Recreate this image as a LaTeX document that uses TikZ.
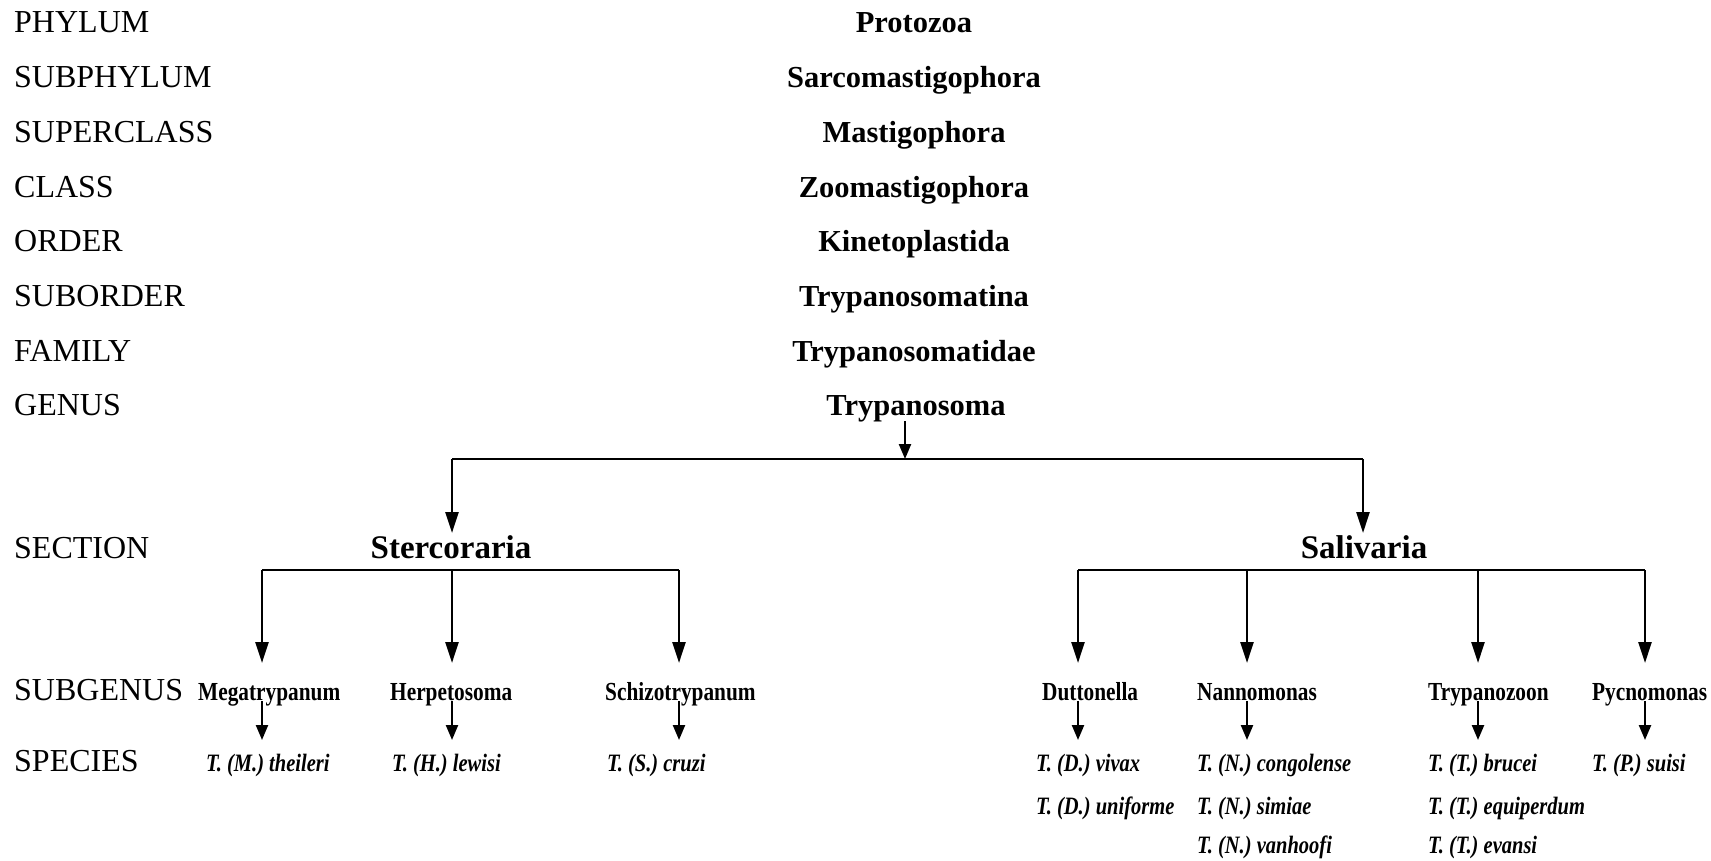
\documentclass[tikz,border=0pt]{standalone}
\usepackage{fontspec}
\setmainfont{Liberation Serif}
\newfontfamily\subfont{Liberation Serif}[FakeStretch=0.82]
\usetikzlibrary{arrows.meta}
\begin{document}
\begin{tikzpicture}[x=1pt,y=-1pt,
  lab/.style={anchor=base west,font=\fontsize{32}{32}\selectfont,inner sep=0pt},
  taxon/.style={anchor=base,font=\bfseries\fontsize{30.5}{31}\selectfont,inner sep=0pt},
  sect/.style={anchor=base,font=\bfseries\fontsize{33}{33}\selectfont,inner sep=0pt},
  subg/.style={anchor=base west,font=\subfont\bfseries\fontsize{26}{26}\selectfont,inner sep=0pt},
  spec/.style={anchor=base west,font=\subfont\bfseries\itshape\fontsize{25}{25}\selectfont,inner sep=0pt},
  conn/.style={line width=2.5pt},
  bigarr/.style={line width=2.5pt,-{Triangle[width=13pt,length=21pt]}},
  smallarr/.style={line width=2.3pt,-{Triangle[width=12pt,length=15pt]}}
]
\useasboundingbox[fill=white] (0,0) rectangle (1711,860);

% rank labels
\node[lab] (lPhy) at (14,32) {PHYLUM};
\node[lab] (lSub) at (14,87) {SUBPHYLUM};
\node[lab] (lSup) at (14,142) {SUPERCLASS};
\node[lab] (lCla) at (14,197) {CLASS};
\node[lab] (lOrd) at (14,251) {ORDER};
\node[lab] (lSor) at (14,306) {SUBORDER};
\node[lab] (lFam) at (14,361) {FAMILY};
\node[lab] (lGen) at (14,415) {GENUS};
\node[lab] (lSec) at (14,558) {SECTION};
\node[lab] (lSg)  at (14,700) {SUBGENUS};
\node[lab] (lSp)  at (14,771) {SPECIES};

% taxa
\node[taxon] (protozoa) at (914,32) {Protozoa};
\node[taxon] (sarco) at (914,87) {Sarcomastigophora};
\node[taxon] (masti) at (914,142) {Mastigophora};
\node[taxon] (zoo) at (914,197) {Zoomastigophora};
\node[taxon] (kin) at (914,251) {Kinetoplastida};
\node[taxon] (tsina) at (914,306) {Trypanosomatina};
\node[taxon] (tsidae) at (914,361) {Trypanosomatidae};
\node[taxon] (tryp) at (916,415) {Trypanosoma};

\coordinate (gtop) at (905,421);
\coordinate (gbar) at (905,459);
\draw[smallarr] (gtop) -- (gbar);

\node[sect] (sterc) at (451,558) {Stercoraria};
\node[sect] (saliv) at (1364,558) {Salivaria};

\coordinate (stTop) at (452,459);
\coordinate (saTop) at (1363,459);
\draw[conn] (stTop) -- (saTop);
\draw[bigarr] (stTop) -- ++(0,74);
\draw[bigarr] (saTop) -- ++(0,74);

% Stercoraria subgenera
\coordinate (stL) at (262,570);
\coordinate (stM) at (452,570);
\coordinate (stR) at (679,570);
\draw[conn] (stL) -- (stR);
\draw[bigarr] (stL) -- ++(0,93);
\draw[bigarr] (stM) -- ++(0,93);
\draw[bigarr] (stR) -- ++(0,93);

% Salivaria subgenera
\coordinate (saA) at (1078,570);
\coordinate (saB) at (1247,570);
\coordinate (saC) at (1478,570);
\coordinate (saD) at (1645,570);
\draw[conn] (saA) -- (saD);
\draw[bigarr] (saA) -- ++(0,93);
\draw[bigarr] (saB) -- ++(0,93);
\draw[bigarr] (saC) -- ++(0,93);
\draw[bigarr] (saD) -- ++(0,93);

\node[subg] (mega) at (198,700) {Megatrypanum};
\node[subg] (herp) at (390,700) {Herpetosoma};
\node[subg] (schi) at (605,700) {Schizotrypanum};
\node[subg] (dutt) at (1042,700) {Duttonella};
\node[subg] (nann) at (1197,700) {Nannomonas};
\node[subg] (tryz) at (1428,700) {Trypanozoon};
\node[subg] (pycn) at (1592,700) {Pycnomonas};

% small arrows subgenus -> species
\draw[smallarr] (262,701) -- (262,740);
\draw[smallarr] (452,701) -- (452,740);
\draw[smallarr] (679,701) -- (679,740);
\draw[smallarr] (1078,701) -- (1078,740);
\draw[smallarr] (1247,701) -- (1247,740);
\draw[smallarr] (1478,701) -- (1478,740);
\draw[smallarr] (1645,701) -- (1645,740);

\node[spec] (sp1) at (206,771) {T. (M.) theileri};
\node[spec] (sp2) at (392,771) {T. (H.) lewisi};
\node[spec] (sp3) at (607,771) {T. (S.) cruzi};
\node[spec] (sp4) at (1036,771) {T. (D.) vivax};
\node[spec] (sp5) at (1036,814) {T. (D.) uniforme};
\node[spec] (sp6) at (1197,771) {T. (N.) congolense};
\node[spec] (sp7) at (1197,814) {T. (N.) simiae};
\node[spec] (sp8) at (1197,853) {T. (N.) vanhoofi};
\node[spec] (sp9) at (1428,771) {T. (T.) brucei};
\node[spec] (sp10) at (1428,814) {T. (T.) equiperdum};
\node[spec] (sp11) at (1428,853) {T. (T.) evansi};
\node[spec] (sp12) at (1592,771) {T. (P.) suisi};
\end{tikzpicture}
\end{document}
